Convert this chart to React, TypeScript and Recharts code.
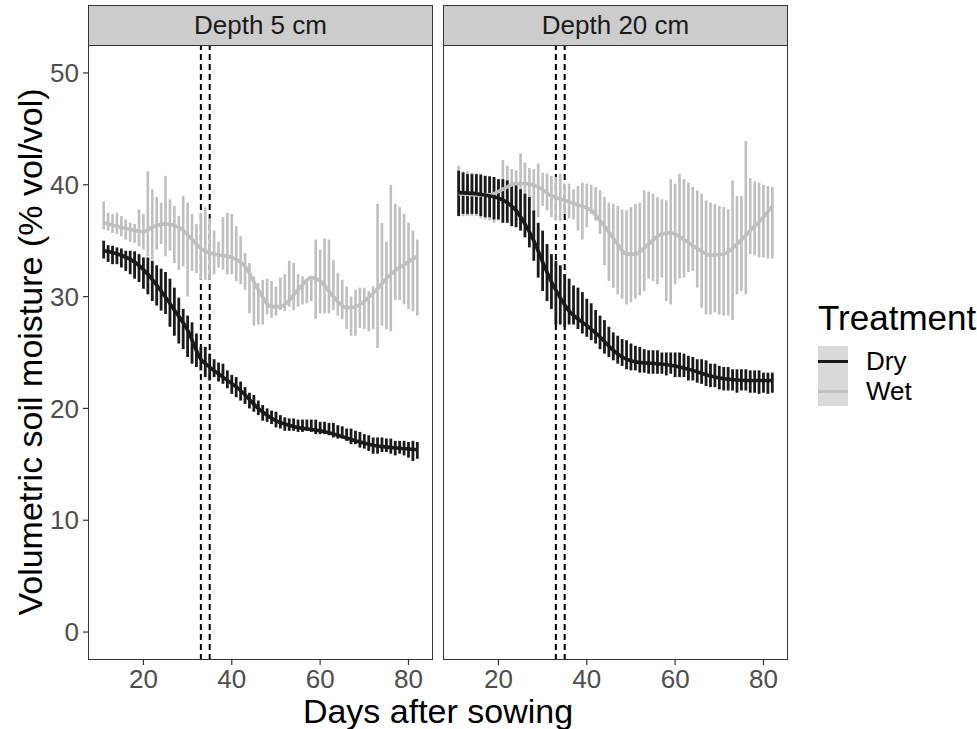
import React from "react"
import { ComposedChart, Line, XAxis, YAxis, ErrorBar, ReferenceLine } from "recharts"

// days after sowing, one error bar per day
const days = [11, 12, 13, 14, 15, 16, 17, 18, 19, 20, 21, 22, 23, 24, 25, 26, 27, 28, 29, 30, 31, 32, 33, 34, 35, 36, 37, 38, 39, 40, 41, 42, 43, 44, 45, 46, 47, 48, 49, 50, 51, 52, 53, 54, 55, 56, 57, 58, 59, 60, 61, 62, 63, 64, 65, 66, 67, 68, 69, 70, 71, 72, 73, 74, 75, 76, 77, 78, 79, 80, 81, 82]

// Depth 5 cm
const dry5High = [35.0, 34.6, 34.55, 34.4, 34.3, 34.1, 34.1, 34.05, 33.8, 33.5, 33.5, 33.2, 32.8, 32.5, 32.2, 31.6, 30.8, 29.9, 28.9, 28.3, 27.7, 26.7, 25.5, 25.5, 24.9, 24.4, 24.1, 24.0, 23.4, 23.0, 22.8, 22.4, 21.9, 21.4, 21.2, 20.7, 20.3, 20.0, 19.8, 19.7, 19.4, 19.2, 19.1, 19.1, 19.0, 19.0, 19.0, 19.0, 19.0, 18.8, 18.8, 18.7, 18.7, 18.5, 18.4, 18.2, 18.2, 18.0, 17.9, 17.7, 17.6, 17.4, 17.4, 17.4, 17.3, 17.3, 17.1, 17.1, 17.1, 17.0, 17.1, 17.0]
const dry5Low = [33.4, 33.1, 32.9, 32.9, 32.6, 32.3, 32.0, 31.6, 31.3, 30.7, 30.2, 29.6, 29.2, 28.75, 28.45, 27.3, 26.5, 25.8, 25.3, 24.6, 24.0, 23.7, 23.4, 22.8, 22.5, 22.8, 22.4, 22.2, 21.8, 21.3, 21.0, 20.7, 20.4, 20.0, 19.7, 19.4, 18.9, 18.8, 18.6, 18.3, 18.2, 18.0, 18.0, 18.0, 17.9, 17.9, 18.0, 17.9, 17.7, 17.7, 17.7, 17.6, 17.4, 17.3, 17.3, 17.1, 16.8, 16.8, 16.5, 16.4, 16.2, 15.95, 15.95, 16.1, 16.1, 15.95, 15.8, 15.95, 15.8, 15.6, 15.3, 15.5]
const wet5High = [38.5, 37.5, 37.4, 37.5, 37.2, 36.9, 36.6, 36.5, 37.8, 37.4, 41.2, 39.6, 38.9, 38.4, 40.8, 38.7, 38.1, 37.2, 39.0, 38.4, 37.4, 36.5, 37.5, 38.0, 37.0, 35.9, 34.9, 37.1, 37.5, 37.4, 36.3, 35.4, 33.9, 33.0, 31.8, 31.2, 31.5, 31.6, 31.4, 30.9, 31.7, 32.0, 33.2, 33.0, 32.0, 31.8, 31.5, 31.5, 35.1, 34.2, 35.2, 35.1, 33.3, 32.1, 31.5, 30.9, 30.0, 30.6, 30.8, 30.8, 30.5, 30.9, 38.3, 36.6, 34.9, 40.0, 38.3, 38.0, 37.4, 36.6, 35.9, 35.1]
const wet5Low = [36.0, 35.9, 35.7, 35.6, 35.4, 35.1, 34.9, 34.8, 34.5, 34.2, 33.6, 33.3, 34.2, 34.7, 33.6, 34.1, 33.0, 32.4, 32.7, 30.0, 32.3, 32.1, 31.5, 31.5, 31.5, 32.0, 32.6, 32.4, 32.0, 32.0, 31.4, 31.1, 30.6, 28.5, 27.4, 27.5, 27.5, 28.4, 28.1, 28.3, 28.8, 28.7, 29.1, 28.8, 29.1, 29.3, 29.4, 29.6, 28.0, 28.5, 28.5, 28.5, 28.8, 28.3, 28.0, 27.1, 26.5, 26.5, 27.2, 27.1, 26.9, 27.1, 25.4, 27.4, 27.1, 26.9, 29.7, 29.7, 29.3, 28.9, 28.7, 28.3]

// Depth 20 cm
const dry20High = [41.25, 41.1, 40.95, 40.95, 40.95, 40.9, 40.8, 40.75, 40.7, 40.5, 40.5, 40.4, 40.1, 40.1, 39.6, 39.2, 38.9, 37.7, 36.6, 35.9, 34.7, 33.8, 33.2, 32.8, 32.0, 31.6, 31.0, 30.8, 30.4, 29.8, 29.4, 28.8, 28.3, 27.9, 27.3, 26.8, 26.5, 26.2, 26.1, 25.8, 25.6, 25.5, 25.3, 25.2, 25.2, 25.2, 25.0, 25.0, 25.0, 25.0, 25.0, 24.9, 24.7, 24.6, 24.4, 24.4, 24.3, 24.0, 24.0, 23.8, 23.7, 23.7, 23.5, 23.5, 23.5, 23.5, 23.4, 23.4, 23.4, 23.2, 23.2, 23.2]
const dry20Low = [37.2, 37.4, 37.4, 37.4, 37.4, 37.2, 37.1, 37.1, 36.9, 36.9, 36.6, 36.6, 36.3, 36.2, 35.9, 35.3, 34.4, 33.2, 31.7, 30.5, 29.6, 28.9, 27.5, 27.5, 27.3, 27.5, 27.5, 27.1, 26.7, 26.4, 26.1, 25.8, 25.3, 24.9, 24.6, 24.3, 24.0, 23.8, 23.5, 23.4, 23.4, 23.2, 23.2, 23.1, 23.1, 23.1, 23.1, 22.95, 23.1, 22.8, 22.8, 22.8, 22.5, 22.5, 22.3, 22.2, 22.0, 21.9, 21.9, 21.7, 21.6, 21.6, 21.6, 21.4, 21.6, 21.6, 21.4, 21.4, 21.3, 21.4, 21.3, 21.4]
const wet20High = [41.7, 41.2, 41.2, 41.1, 41.0, 41.0, 40.8, 40.8, 40.7, 40.5, 42.2, 41.7, 41.4, 41.3, 42.8, 42.0, 41.5, 41.4, 41.9, 41.1, 41.0, 40.8, 40.7, 41.0, 40.1, 40.1, 39.6, 39.9, 40.2, 40.1, 40.0, 39.8, 39.5, 38.9, 38.4, 38.3, 38.1, 37.8, 37.7, 38.0, 38.3, 38.4, 39.5, 39.4, 39.2, 38.9, 38.7, 38.6, 40.5, 40.1, 41.0, 40.5, 40.2, 39.8, 39.5, 39.2, 38.6, 38.4, 38.3, 38.1, 38.0, 37.8, 40.4, 39.0, 39.0, 43.9, 40.6, 40.3, 40.2, 40.0, 39.9, 39.8]
const wet20Low = [37.2, 37.2, 37.2, 37.2, 37.2, 37.0, 36.9, 36.8, 36.6, 36.8, 37.8, 38.3, 37.8, 38.0, 38.3, 37.8, 38.0, 37.5, 37.1, 38.1, 37.7, 37.1, 36.8, 36.8, 37.4, 37.0, 36.9, 35.9, 35.1, 36.2, 37.4, 36.8, 35.6, 32.8, 31.4, 30.8, 30.2, 29.8, 29.3, 29.5, 29.8, 30.1, 30.5, 31.6, 31.4, 31.1, 31.7, 29.6, 29.3, 31.1, 31.6, 31.7, 32.2, 32.3, 30.8, 29.0, 28.4, 28.4, 28.6, 28.4, 28.3, 28.3, 27.9, 30.2, 30.5, 30.2, 33.8, 33.7, 33.5, 33.5, 33.4, 33.4]

// loess curves, read at a few days
const dry5SmoothDays = [11, 15, 18, 21, 24, 27, 30, 33, 35, 38, 42, 46, 50, 55, 60, 64, 68, 72, 76, 82]
const dry5Smooth = [34.1, 33.7, 33.1, 32.0, 30.5, 28.8, 27.0, 24.4, 23.7, 22.8, 21.6, 20.0, 18.9, 18.3, 18.0, 17.6, 17.1, 16.7, 16.5, 16.3]
const wet5SmoothDays = [11, 15, 20, 22, 25, 28, 31, 33, 36, 40, 43, 46, 49, 51, 55, 58, 60, 63, 66, 68, 72, 76, 79, 82]
const wet5Smooth = [36.6, 36.2, 35.8, 36.2, 36.5, 36.2, 35.1, 34.3, 33.8, 33.5, 32.7, 30.6, 29.1, 29.1, 30.6, 31.7, 31.4, 30.0, 29.0, 29.1, 30.3, 32.0, 32.85, 33.6]
const dry20SmoothDays = [11, 15, 18, 20, 22, 24, 26, 28, 30, 32, 34, 36, 38, 40, 43, 46, 49, 52, 56, 60, 64, 68, 72, 76, 82]
const dry20Smooth = [39.3, 39.2, 39.0, 38.8, 38.4, 37.7, 36.5, 35.0, 33.1, 31.3, 29.9, 28.7, 28.0, 27.4, 26.4, 25.2, 24.4, 24.1, 24.0, 23.8, 23.4, 22.9, 22.6, 22.5, 22.5]
const wet20SmoothDays = [11, 15, 18, 21, 24, 26, 29, 32, 35, 38, 41, 44, 47, 49, 51, 54, 57, 59, 62, 65, 68, 71, 74, 77, 80, 82]
const wet20Smooth = [39.2, 39.1, 39.1, 39.6, 40.1, 40.1, 39.8, 39.0, 38.6, 38.2, 37.7, 36.3, 34.7, 33.8, 33.8, 34.7, 35.6, 35.7, 35.1, 34.3, 33.7, 33.8, 34.7, 35.9, 37.1, 38.1]

const dashedDays = [33, 35]
const xTicks = [20, 40, 60, 80]
const yTicks = [0, 10, 20, 30, 40, 50]
const treatments = ["Dry", "Wet"]

const DRY = "#1a1a1a"
const WET = "#bfbfbf"
const FONT = '"Liberation Sans", Arial, Helvetica, sans-serif'

function buildRows(dryLow: number[], dryHigh: number[], wetLow: number[], wetHigh: number[], dsDays: number[], ds: number[], wsDays: number[], ws: number[]) {
  return days.map((d, i) => {
    const di = dsDays.indexOf(d)
    const wi = wsDays.indexOf(d)
    return {
      day: d,
      dryMid: (dryLow[i] + dryHigh[i]) / 2,
      dryErr: (dryHigh[i] - dryLow[i]) / 2,
      wetMid: (wetLow[i] + wetHigh[i]) / 2,
      wetErr: (wetHigh[i] - wetLow[i]) / 2,
      drySmooth: di >= 0 ? ds[di] : null,
      wetSmooth: wi >= 0 ? ws[wi] : null,
    }
  })
}

const rows5 = buildRows(dry5Low, dry5High, wet5Low, wet5High, dry5SmoothDays, dry5Smooth, wet5SmoothDays, wet5Smooth)
const rows20 = buildRows(dry20Low, dry20High, wet20Low, wet20High, dry20SmoothDays, dry20Smooth, wet20SmoothDays, wet20Smooth)

const PLOT_TOP = 45
const PLOT_H = 615
const PLOT_W = 345
const X_AXIS_H = 40

function Panel({ data, plotLeft, showY, title }: { data: any[]; plotLeft: number; showY: boolean; title: string }) {
  const yw = showY ? 88 : 0
  const chartLeft = plotLeft - (showY ? yw : 4)
  const tickStyle = { fontSize: 26, fill: "#4d4d4d", fontFamily: FONT }
  return (
    <>
      <div style={{ position: "absolute", left: chartLeft, top: PLOT_TOP }}>
        <ComposedChart
          width={PLOT_W + (showY ? yw : 4) + 4}
          height={PLOT_H + X_AXIS_H}
          data={data}
          margin={{ top: 0, right: 4, bottom: 0, left: showY ? 0 : 4 }}
        >
          <XAxis
            dataKey="day"
            type="number"
            domain={[7.45, 85.55]}
            ticks={xTicks}
            allowDataOverflow
            axisLine={false}
            tickSize={5}
            tickMargin={5}
            tickLine={{ stroke: "#333333", strokeWidth: 1.2 }}
            tick={tickStyle}
            height={X_AXIS_H}
          />
          <YAxis
            type="number"
            domain={[-2.5, 52.5]}
            ticks={yTicks}
            allowDataOverflow
            hide={!showY}
            width={yw}
            axisLine={false}
            tickSize={5}
            tickMargin={4}
            tickLine={{ stroke: "#333333", strokeWidth: 1.2 }}
            tick={tickStyle}
          />
          {dashedDays.map((d) => (
            <ReferenceLine key={d} x={d} stroke="#000000" strokeWidth={2} strokeDasharray="6 4" />
          ))}
          <Line dataKey="wetMid" stroke="none" dot={false} activeDot={false} isAnimationActive={false}>
            <ErrorBar dataKey="wetErr" direction="y" width={0} stroke={WET} strokeWidth={2.6} isAnimationActive={false} />
          </Line>
          <Line dataKey="dryMid" stroke="none" dot={false} activeDot={false} isAnimationActive={false}>
            <ErrorBar dataKey="dryErr" direction="y" width={0} stroke={DRY} strokeWidth={2.8} isAnimationActive={false} />
          </Line>
          <Line type="monotone" dataKey="wetSmooth" stroke={WET} strokeWidth={3.6} dot={false} activeDot={false} connectNulls isAnimationActive={false} />
          <Line type="monotone" dataKey="drySmooth" stroke={DRY} strokeWidth={3.6} dot={false} activeDot={false} connectNulls isAnimationActive={false} />
        </ComposedChart>
      </div>
      <div
        style={{
          position: "absolute",
          left: plotLeft,
          top: PLOT_TOP,
          width: PLOT_W,
          height: PLOT_H,
          border: "1.3px solid #333333",
          boxSizing: "border-box",
          pointerEvents: "none",
        }}
      />
      <div
        style={{
          position: "absolute",
          left: plotLeft,
          top: 5,
          width: PLOT_W,
          height: 41,
          background: "#cccccc",
          border: "1.3px solid #333333",
          boxSizing: "border-box",
          display: "flex",
          alignItems: "center",
          justifyContent: "center",
          fontSize: 26,
          color: "#1a1a1a",
        }}
      >
        {title}
      </div>
    </>
  )
}

export default function App() {
  return (
    <div style={{ position: "absolute", left: 0, top: 0, width: 977, height: 729, background: "#ffffff", fontFamily: FONT, overflow: "hidden" }}>
      <Panel data={rows5} plotLeft={88} showY title="Depth 5 cm" />
      <Panel data={rows20} plotLeft={443} showY={false} title="Depth 20 cm" />
      <div
        style={{
          position: "absolute",
          left: 30,
          top: 352,
          transform: "translate(-50%, -50%) rotate(-90deg)",
          whiteSpace: "nowrap",
          fontSize: 34,
          lineHeight: 1,
          color: "#000000",
        }}
      >
        Volumetric soil moisture (% vol/vol)
      </div>
      <div
        style={{
          position: "absolute",
          left: 438,
          top: 694,
          transform: "translateX(-50%)",
          whiteSpace: "nowrap",
          fontSize: 34,
          lineHeight: 1,
          color: "#000000",
        }}
      >
        Days after sowing
      </div>
      <div style={{ position: "absolute", left: 818, top: 317, transform: "translateY(-50%)", fontSize: 35, lineHeight: 1, whiteSpace: "nowrap" }}>Treatment</div>
      {treatments.map((t, i) => (
        <React.Fragment key={t}>
          <div style={{ position: "absolute", left: 818, top: 346 + i * 30, width: 30, height: 30, background: "#d9d9d9" }}>
            <div style={{ position: "absolute", left: 0, right: 0, top: 13.5, height: 3.5, background: t === "Dry" ? DRY : WET }} />
          </div>
          <div style={{ position: "absolute", left: 866, top: 361 + i * 30, transform: "translateY(-50%)", fontSize: 26, lineHeight: 1 }}>{t}</div>
        </React.Fragment>
      ))}
    </div>
  )
}
